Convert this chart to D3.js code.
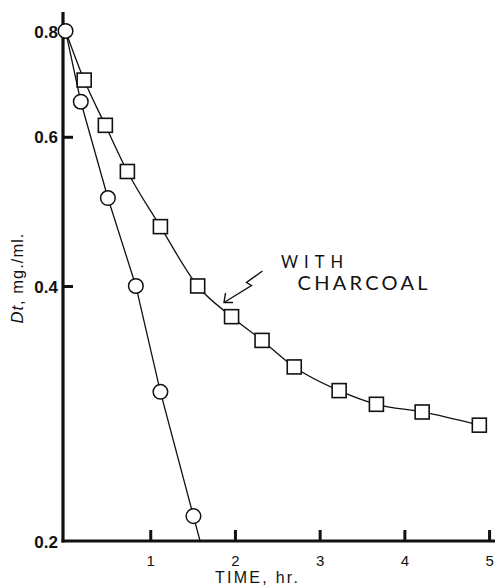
<!DOCTYPE html>
<html>
<head>
<meta charset="utf-8">
<script src="https://cdn.jsdelivr.net/npm/d3@7"></script>
<style>
  html, body { margin: 0; padding: 0; background: #fff; }
  svg { display: block; }
  text { fill: #111; }
</style>
</head>
<body>
<svg id="chart" width="495" height="586"></svg>
<script>
// Sampling times (hr) and concentrations (mg./ml.)
const timeNoCharcoal = [0, 0.18, 0.50, 0.83, 1.12, 1.51];
const dtNoCharcoal   = [0.80, 0.66, 0.508, 0.40, 0.30, 0.214];

const timeCharcoal = [0, 0.22, 0.47, 0.73, 1.12, 1.56, 1.96, 2.32, 2.70, 3.23, 3.67, 4.21, 4.885];
const dtCharcoal   = [0.80, 0.70, 0.619, 0.546, 0.470, 0.40, 0.368, 0.345, 0.321, 0.301, 0.290, 0.284, 0.274];

const xTicks = [1, 2, 3, 4, 5];
const yTicks = [0.2, 0.4, 0.6, 0.8];
const yTickLabels = ["0.2", "0.4", "0.6", "0.8"];

const svg = d3.select("#chart");
const x = d3.scaleLinear().domain([-0.03, 5.07]).range([63, 495]);
const y = d3.scaleLog().domain([0.2, 0.84]).range([541, 13]);

const ink = "#111";
const sans = "'Liberation Sans', Arial, sans-serif";

// Data lines
const noCh = timeNoCharcoal.map((t, i) => ({ t, v: dtNoCharcoal[i] }));
const ch = timeCharcoal.map((t, i) => ({ t, v: dtCharcoal[i] }));

// Extend the decay line (linear in log space) from the last two samples down to the axis
const a = noCh[noCh.length - 2], b = noCh[noCh.length - 1];
const k = Math.log(b.v / a.v) / (b.t - a.t);
const tEnd = b.t + Math.log(y.domain()[0] / b.v) / k;
const noChLine = noCh.concat([{ t: tEnd, v: y.domain()[0] }]);

const lineStraight = d3.line().x(d => x(d.t)).y(d => y(d.v));
const lineSmooth = d3.line().x(d => x(d.t)).y(d => y(d.v)).curve(d3.curveMonotoneX);

svg.append("path").attr("d", lineStraight(noChLine))
  .attr("fill", "none").attr("stroke", ink).attr("stroke-width", 1.3);
svg.append("path").attr("d", lineSmooth(ch))
  .attr("fill", "none").attr("stroke", ink).attr("stroke-width", 1.3);

// Axes
const xAxis = d3.axisBottom(x).tickValues(xTicks).tickSize(0).tickPadding(0).tickFormat(d3.format("d"));
const gx = svg.append("g").attr("transform", `translate(0,${y.range()[0]})`).call(xAxis);
gx.select(".domain").remove();
gx.selectAll("text").attr("y", 24.5).attr("dy", 0)
  .style("font-family", sans).style("font-size", "15px").style("fill", ink);
gx.selectAll(".tick").append("line").attr("y1", 0).attr("y2", -11)
  .attr("stroke", ink).attr("stroke-width", 3);

const yAxis = d3.axisLeft(y).tickValues(yTicks).tickSize(0).tickPadding(0)
  .tickFormat((d, i) => yTickLabels[i]);
const gy = svg.append("g").attr("transform", `translate(${x.range()[0]},0)`).call(yAxis);
gy.select(".domain").remove();
gy.selectAll("text").attr("x", -5).attr("dy", "0.36em")
  .style("font-family", sans).style("font-size", "17px")
  .style("font-weight", "bold").style("fill", ink);
gy.selectAll(".tick").filter(d => d > 0.2).append("line").attr("x1", 0).attr("x2", 10)
  .attr("stroke", ink).attr("stroke-width", 3);

// Axis lines
svg.append("line").attr("x1", x.range()[0]).attr("x2", x.range()[0])
  .attr("y1", y.range()[1] - 1).attr("y2", y.range()[0] + 1.5)
  .attr("stroke", ink).attr("stroke-width", 3.2);
svg.append("line").attr("x1", x.range()[0] - 1.5).attr("x2", x.range()[1])
  .attr("y1", y.range()[0]).attr("y2", y.range()[0])
  .attr("stroke", ink).attr("stroke-width", 3.2);

// Markers
const sq = 14;
svg.append("g").selectAll("rect").data(ch.slice(1)).join("rect")
  .attr("x", d => x(d.t) - sq / 2).attr("y", d => y(d.v) - sq / 2)
  .attr("width", sq).attr("height", sq)
  .attr("fill", "#fff").attr("stroke", ink).attr("stroke-width", 1.6);
svg.append("g").selectAll("circle").data(noCh).join("circle")
  .attr("cx", d => x(d.t)).attr("cy", d => y(d.v)).attr("r", 7.3)
  .attr("fill", "#fff").attr("stroke", ink).attr("stroke-width", 1.5);

// Annotation
const noteFont = "Lato, 'Open Sans', sans-serif";
svg.append("text").attr("x", 281).attr("y", 267.5).text("WITH")
  .attr("textLength", 62).attr("lengthAdjust", "spacing")
  .style("font-family", noteFont).style("font-size", "16.5px");
svg.append("text").attr("x", 297.5).attr("y", 290).text("CHARCOAL")
  .attr("textLength", 130).attr("lengthAdjust", "spacing")
  .style("font-family", noteFont).style("font-size", "20px");

// Zig-zag pointer
svg.append("path")
  .attr("d", "M262.5,271 L246.5,282.5 L251.5,285.5 L224,302.5")
  .attr("fill", "none").attr("stroke", ink).attr("stroke-width", 1.4);
svg.append("path")
  .attr("d", "M225.5,293 L224,302.5 L233,302.5")
  .attr("fill", "none").attr("stroke", ink).attr("stroke-width", 1.4);

// Axis titles
svg.append("text").attr("x", 215).attr("y", 583)
  .attr("textLength", 83).attr("lengthAdjust", "spacing")
  .style("font-family", sans).style("font-size", "16px")
  .text("TIME, hr.");

const yl = svg.append("text").attr("transform", "translate(23,278) rotate(-90)")
  .attr("text-anchor", "middle")
  .style("font-family", sans).style("font-size", "16.5px")
  .style("letter-spacing", "1px");
yl.append("tspan").style("font-style", "italic").text("Dt");
yl.append("tspan").text(", mg./ml.");
</script>
</body>
</html>
